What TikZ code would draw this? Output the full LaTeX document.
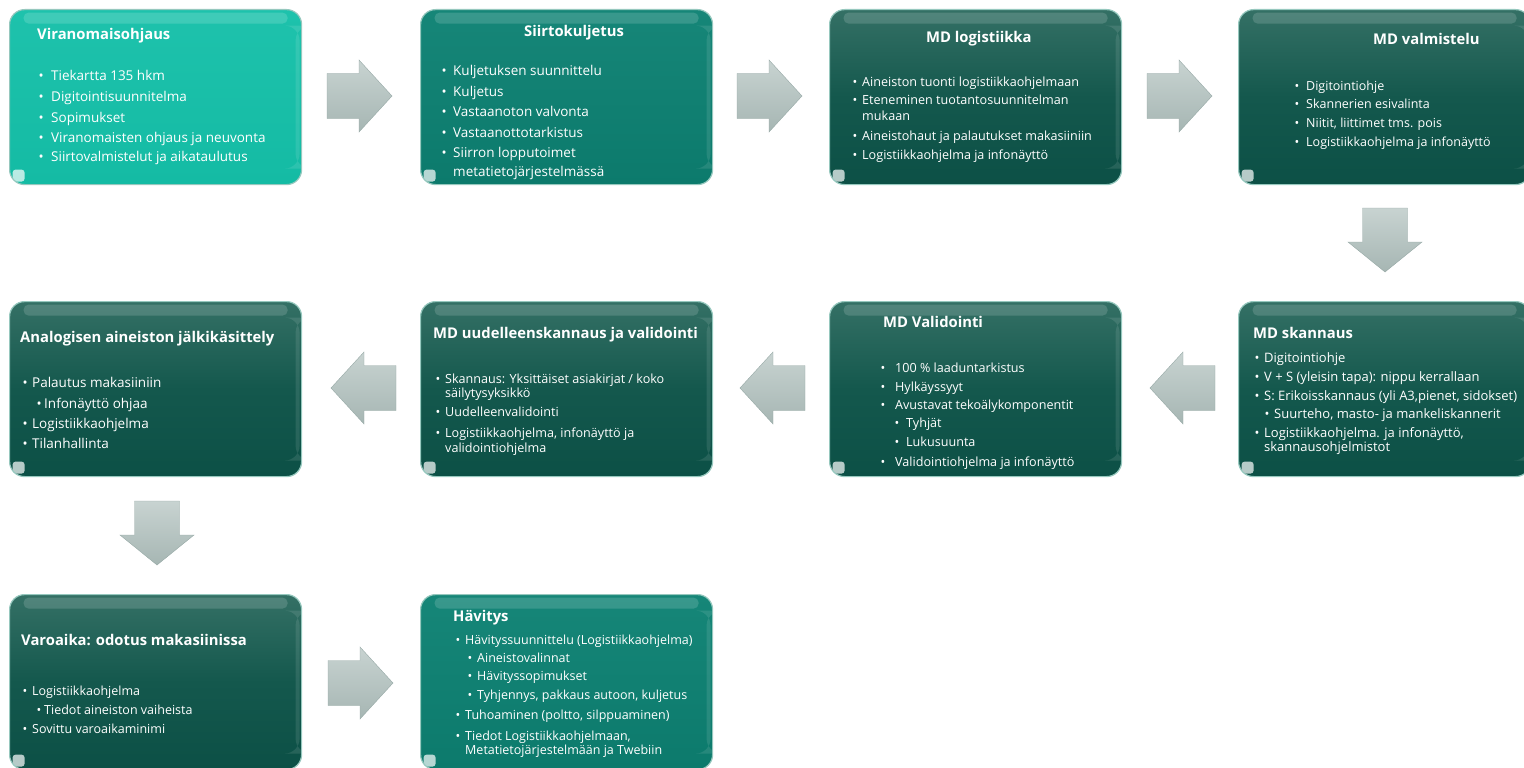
\documentclass[tikz,border=0pt]{standalone}
\usepackage{fontspec}
\setmainfont{Open Sans}
\definecolor{tealA}{RGB}{20,187,164}
\definecolor{tealAt}{RGB}{30,194,172}
\definecolor{tealB}{RGB}{12,122,108}
\definecolor{tealBt}{RGB}{22,134,120}
\definecolor{darkT}{RGB}{52,112,101}
\definecolor{darkM}{RGB}{20,88,77}
\definecolor{darkB}{RGB}{12,80,70}
\definecolor{rim}{RGB}{150,200,190}
\definecolor{arrT}{RGB}{200,211,209}
\definecolor{arrB}{RGB}{166,182,179}
\definecolor{arrE}{RGB}{150,168,165}
\newcounter{lnc}
\newlength\bg
\newlength\sbg
\newcommand\bx{0}
\newcommand\sbx{0}
\newcommand\fs{12}
\newcommand\setb[5]{\renewcommand\bx{#1}\setlength\bg{#2pt}\renewcommand\sbx{#3}\setlength\sbg{#4pt}\renewcommand\fs{#5}}
\newcommand\bi[2]{\stepcounter{lnc}\node[bt] (l\arabic{lnc}) at (\bx,#1) {\makebox[\bg][l]{•}#2};}
\newcommand\ci[2]{\stepcounter{lnc}\node[bt] (l\arabic{lnc}) at (\bx,#1) {\hspace*{\bg}#2};}
\newcommand\si[2]{\stepcounter{lnc}\node[bt] (l\arabic{lnc}) at (\sbx,#1) {\makebox[\sbg][l]{•}#2};}
\tikzset{
 gbox/.style={rounded corners=15pt, draw=rim, line width=1.2pt, minimum width=292pt, minimum height=175pt, anchor=north west, inner sep=0pt,
   path picture={
     \fill[white,opacity=0.15,rounded corners=5pt] ([xshift=14pt,yshift=-3pt]path picture bounding box.north west) rectangle ([xshift=-14pt,yshift=-14pt]path picture bounding box.north east);
     \fill[white,opacity=0.1] ([xshift=-6pt,yshift=-16pt]path picture bounding box.north east) rectangle ([xshift=-2pt,yshift=16pt]path picture bounding box.south east);
     \fill[white,opacity=0.7,rounded corners=3pt] ([xshift=3pt,yshift=3pt]path picture bounding box.south west) rectangle ([xshift=15pt,yshift=15pt]path picture bounding box.south west);
   }},
 boxA/.style={gbox, top color=tealAt, bottom color=tealA},
 boxB/.style={gbox, top color=tealBt, bottom color=tealB},
 boxD/.style={gbox, top color=darkT, bottom color=darkB, middle color=darkM},
 tt/.style={anchor=base west, inner sep=0pt, text=white, font=\bfseries\fontsize{14.8}{14.8}\selectfont},
 bt/.style={anchor=base west, inner sep=0pt, text=white, font=\fontsize{\fs}{\fs}\selectfont},
 arrowfill/.style={top color=arrT, bottom color=arrB, draw=arrE, line width=0.4pt},
 rarr/.pic={\shade[arrowfill] (0,-22.5) -- (32,-22.5) -- (32,-36) -- (65,0) -- (32,36) -- (32,22.5) -- (0,22.5) -- cycle;},
 larr/.pic={\shade[arrowfill] (0,0) -- (33,-36) -- (33,-22.5) -- (65,-22.5) -- (65,22.5) -- (33,22.5) -- (33,36) -- cycle;},
 darr/.pic={\shade[arrowfill] (-22.5,0) -- (22.5,0) -- (22.5,34) -- (37,34) -- (0,64) -- (-37,34) -- (-22.5,34) -- cycle;},
}
\begin{document}
\begin{tikzpicture}[x=1pt,y=-1pt]
\useasboundingbox (0,0) rectangle (1524,768);
\clip (0,0) rectangle (1524,768);
% boxes
\node[boxA] (b1) at (9,9) {};
\node[boxB] (b2) at (420,9) {};
\node[boxD] (b3) at (829,9) {};
\node[boxD] (b4) at (1238,9) {};
\node[boxD] (b5) at (9,301) {};
\node[boxD] (b6) at (420,301) {};
\node[boxD] (b7) at (829,301) {};
\node[boxD] (b8) at (1238,301) {};
\node[boxD] (b9) at (9,594) {};
\node[boxB] (b10) at (420,594) {};
% arrows
\pic (a1) at (327,96) {rarr};
\pic (a2) at (737,96) {rarr};
\pic (a3) at (1147,96) {rarr};
\pic (a4) at (1385,208) {darr};
\pic (a5) at (1150,388) {larr};
\pic (a6) at (740,388) {larr};
\pic (a7) at (331,388) {larr};
\pic (a8) at (157,501) {darr};
\pic (a9) at (328,683) {rarr};
% titles
\node[tt] (t1) at (37,40) {Viranomaisohjaus};
\node[tt] (t2) at (524,37) {Siirtokuljetus};
\node[tt] (t3) at (926,43) {MD logistiikka};
\node[tt] (t4) at (1373,45) {MD valmistelu};
\node[tt] (t5) at (20,342) {Analogisen aineiston jälkikäsittely};
\node[tt] (t6) at (433,338) {MD uudelleenskannaus ja validointi};
\node[tt] (t7) at (883,327) {MD Validointi};
\node[tt] (t8) at (1253,338) {MD skannaus};
\node[tt] (t9) at (21,645) {Varoaika: odotus makasiinissa};
\node[tt] (t10) at (453,621) {Hävitys};
% box 1
\setb{38.3}{12.7}{0}{0}{13.5}
\bi{81}{Tiekartta 135 hkm}
\bi{101}{Digitointisuunnitelma}
\bi{122}{Sopimukset}
\bi{142}{Viranomaisten ohjaus ja neuvonta}
\bi{161}{Siirtovalmistelut ja aikataulutus}
% box 2
\setb{441.3}{11.7}{0}{0}{13.5}
\bi{76}{Kuljetuksen suunnittelu}
\bi{96}{Kuljetus}
\bi{117}{Vastaanoton valvonta}
\bi{137}{Vastaanottotarkistus}
\bi{157}{Siirron lopputoimet}
\ci{176}{metatietojärjestelmässä}
% box 3
\setb{852.3}{9.7}{0}{0}{12.6}
\bi{86}{Aineiston tuonti logistiikkaohjelmaan}
\bi{104}{Eteneminen tuotantosuunnitelman}
\ci{121}{mukaan}
\bi{140}{Aineistohaut ja palautukset makasiiniin}
\bi{159}{Logistiikkaohjelma ja infonäyttö}
% box 4
\setb{1294.3}{11.7}{0}{0}{12.5}
\bi{90}{Digitointiohje}
\bi{108}{Skannerien esivalinta}
\bi{127}{Niitit, liittimet tms. pois}
\bi{146}{Logistiikkaohjelma ja infonäyttö}
% box 5
\setb{22.3}{9.7}{36.3}{7.7}{13.5}
\bi{387}{Palautus makasiiniin}
\si{408}{Infonäyttö ohjaa}
\bi{428}{Logistiikkaohjelma}
\bi{448}{Tilanhallinta}
% box 6
\setb{435.3}{9.7}{0}{0}{12.6}
\bi{383}{Skannaus: Yksittäiset asiakirjat / koko}
\ci{397}{säilytysyksikkö}
\bi{416}{Uudelleenvalidointi}
\bi{437}{Logistiikkaohjelma, infonäyttö ja}
\ci{452}{validointiohjelma}
% box 7
\setb{880.3}{14.7}{894.3}{11.7}{12.6}
\bi{372}{100 \% laaduntarkistus}
\bi{391}{Hylkäyssyyt}
\bi{409}{Avustavat tekoälykomponentit}
\si{427}{Tyhjät}
\si{446}{Lukusuunta}
\bi{466}{Validointiohjelma ja infonäyttö}
% box 8
\setb{1254.3}{9.7}{1264.3}{9.7}{13}
\bi{362}{Digitointiohje}
\bi{381}{V + S (yleisin tapa): nippu kerrallaan}
\bi{400}{S: Erikoisskannaus (yli A3,pienet, sidokset)}
\si{418}{Suurteho, masto- ja mankeliskannerit}
\bi{437}{Logistiikkaohjelma. ja infonäyttö,}
\ci{451}{skannausohjelmistot}
% box 9
\setb{22.3}{9.7}{36.3}{7.7}{12.5}
\bi{695}{Logistiikkaohjelma}
\si{714}{Tiedot aineiston vaiheista}
\bi{733}{Sovittu varoaikaminimi}
% box 10
\setb{455.3}{9.7}{467.3}{9.7}{12.5}
\bi{644}{Hävityssuunnittelu (Logistiikkaohjelma)}
\si{662}{Aineistovalinnat}
\si{680}{Hävityssopimukset}
\si{699}{Tyhjennys, pakkaus autoon, kuljetus}
\bi{719}{Tuhoaminen (poltto, silppuaminen)}
\bi{740}{Tiedot Logistiikkaohjelmaan,}
\ci{754}{Metatietojärjestelmään ja Twebiin}
\end{tikzpicture}
\end{document}
